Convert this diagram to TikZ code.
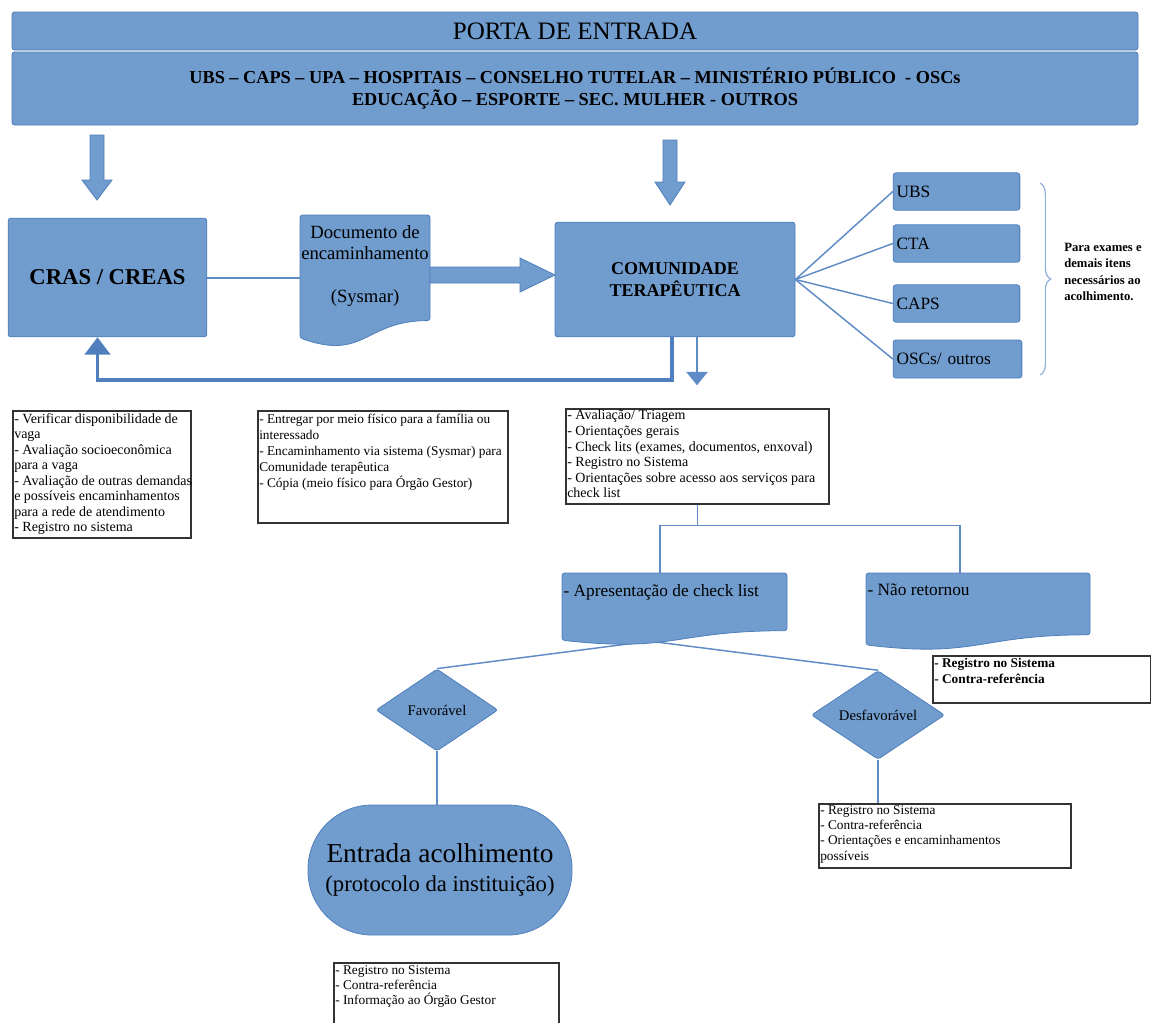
\documentclass[tikz,border=0pt]{standalone}
\usepackage{fontspec}
\setmainfont{Liberation Serif}
\usetikzlibrary{shapes.geometric,arrows.meta,decorations.pathreplacing}
\definecolor{boxblue}{HTML}{709CCE}
\definecolor{edgeblue}{HTML}{4F7FBC}
\definecolor{lineblue}{HTML}{5F8BC6}
\definecolor{bracec}{HTML}{8FB0DA}

\begin{document}
\begin{tikzpicture}[x=0.75pt,y=-0.75pt,
	bluebox/.style={draw=edgeblue,fill=boxblue,line width=0.6pt,rounded corners=2pt,inner sep=0pt},
	notebox/.style={draw=black!80,fill=white,line width=1.3pt,inner sep=0pt,anchor=north west},
	notetext/.style={anchor=north west,align=left,inner xsep=1.5pt,inner ysep=2.5pt},
	link/.style={draw=lineblue,line width=1.1pt},
	feedback/.style={draw=edgeblue,line width=2.4pt,-{Triangle[width=19pt,length=13pt]}}]
	\useasboundingbox (0,0) rectangle (1151,1022);
	%
	\node[bluebox,minimum width=844.5pt,minimum height=28.5pt,font=\fontsize{18.8}{22}\selectfont] (porta) at (575,31) {PORTA DE ENTRADA};
	\node[bluebox,minimum width=844.5pt,minimum height=54.75pt,align=center,font=\bfseries\fontsize{13.7}{16.5}\selectfont] (portas) at (575,88.5) {UBS – CAPS – UPA – HOSPITAIS – CONSELHO TUTELAR – MINISTÉRIO PÚBLICO \ - OSCs\\EDUCAÇÃO – ESPORTE – SEC. MULHER - OUTROS};
	%
	\draw[bluebox,rounded corners=0pt] (90,135) -- (104,135) -- (104,180) -- (112,180) -- (97,200) -- (82,180) -- (90,180) -- cycle; %down left
	\draw[bluebox,rounded corners=0pt] (663,140) -- (677,140) -- (677,182) -- (685,182) -- (670,205) -- (655,182) -- (663,182) -- cycle; %down right
	%
	\node[bluebox,minimum width=149pt,minimum height=89pt,font=\bfseries\fontsize{17}{20}\selectfont] (cras) at (107.5,277.5) {CRAS / CREAS};
	\node[bluebox,minimum width=180pt,minimum height=86pt,align=center,font=\bfseries\fontsize{13.5}{16.5}\selectfont] (comun) at (675,279.5) {COMUNIDADE\\TERAPÊUTICA};
	%
	\draw[bluebox] (300,215) -- (430,215) -- (430,320.6) .. controls (365,320.6) and (365,361) .. (300,338) -- cycle;
	\node[inner sep=0pt,minimum width=97.5pt,align=center,font=\fontsize{14}{16}\selectfont] (doc) at (365,266) {Documento de\\encaminhamento\\[16pt](Sysmar)};
	\draw[link,line width=1.5pt] (cras.east) -- (cras.east -| doc.west);
	\draw[bluebox,rounded corners=0pt] (430,267) -- (520,267) -- (520,258) -- (555,275) -- (520,292) -- (520,283) -- (430,283) -- cycle;
	%
	\node[bluebox,minimum width=95pt,minimum height=28pt,text width=90pt,align=left,inner xsep=2.5pt,font=\fontsize{13}{15}\selectfont] (ubs) at (956.5,191.5) {UBS};
	\node[bluebox,minimum width=95pt,minimum height=28pt,text width=90pt,align=left,inner xsep=2.5pt,font=\fontsize{13}{15}\selectfont] (cta) at (956.5,243.5) {CTA};
	\node[bluebox,minimum width=95pt,minimum height=28pt,text width=90pt,align=left,inner xsep=2.5pt,font=\fontsize{13}{15}\selectfont] (caps) at (956.5,303.5) {CAPS};
	\node[bluebox,minimum width=96.5pt,minimum height=28.5pt,text width=91.5pt,align=left,inner xsep=2.5pt,font=\fontsize{13}{15}\selectfont] (oscs) at (957.5,359) {OSCs/ outros};
	\foreach \t in {ubs,cta,caps,oscs}
		\draw[link] (comun.east) -- (\t.west);
	%
	\draw[decorate,decoration={brace,amplitude=8pt},draw=bracec,line width=0.9pt] (1040,183) -- (1040,375);
	\node[anchor=west,align=left,inner sep=0pt,font=\bfseries\fontsize{9.5}{12.4}\selectfont] (obs) at (1064,272) {Para exames e\\demais itens\\necessários ao\\acolhimento.};
	%
	\coordinate (fbLevel) at (0,380);
	\coordinate (fbCorner) at ([xshift=-7.5pt]cras.south |- fbLevel);
	\draw[feedback] ([xshift=-2.25pt]comun.south) |- (fbCorner) -- ([xshift=-7.5pt]cras.south);
	\draw[link,-{Triangle[width=16pt,length=10pt]}] ([xshift=16.5pt]comun.south) -- ++(0,48);
	%
	\node[notebox,minimum width=133.5pt,minimum height=95.25pt] (noteA) at (12,410) {};
	\node[notetext,font=\fontsize{10.5}{11.6}\selectfont] (noteAtxt) at (noteA.north west) {- Verificar disponibilidade de\\vaga\\- Avaliação socioeconômica\\para a vaga\\- Avaliação de outras demandas\\e possíveis encaminhamentos\\para a rede de atendimento\\- Registro no sistema};
	\node[notebox,minimum width=187.5pt,minimum height=84pt] (noteB) at (257,410) {};
	\node[notetext,font=\fontsize{10}{12}\selectfont] (noteBtxt) at (noteB.north west) {- Entregar por meio físico para a família ou\\interessado\\- Encaminhamento via sistema (Sysmar) para\\Comunidade terapêutica\\- Cópia (meio físico para Órgão Gestor)};
	\node[notebox,minimum width=197.25pt,minimum height=71.25pt] (noteC) at (565,408) {};
	\node[notetext,font=\fontsize{10.5}{11.7}\selectfont,inner ysep=1.5pt] (noteCtxt) at (noteC.north west) {- Avaliação/ Triagem\\- Orientações gerais\\- Check lits (exames, documentos, enxoval)\\- Registro no Sistema\\- Orientações sobre acesso aos serviços para\\check list};
	%
	\draw[link] (noteC.south) -- ++(0,21) coordinate (split);
	\coordinate (apresTop) at (660,573);
	\coordinate (naoTop) at (960,573);
	\draw[link] (apresTop) |- (split) -| (naoTop);
	%
	\node[bluebox,diamond,minimum width=91.5pt,minimum height=61.5pt,font=\fontsize{11}{13}\selectfont] (fav) at (437,710) {Favorável};
	\node[bluebox,diamond,minimum width=100pt,minimum height=64pt,font=\fontsize{11}{13}\selectfont] (desf) at (878,715) {Desfavorável};
	\coordinate (apresL) at (705,634);
	\coordinate (apresR) at (625,638);
	\draw[link] (apresL) -- (fav.north);
	\draw[link] (apresR) -- (desf.north);
	%
	\draw[bluebox] (562,573) -- (787,573) -- (787,630.7) .. controls (674.5,630.7) and (674.5,652.7) .. (562,640.2) -- cycle;
	\node[anchor=west,inner sep=1pt,font=\fontsize{13}{15}\selectfont] (apres) at (562,592) {- Apresentação de check list};
	\draw[bluebox] (866,573) -- (1090,573) -- (1090,634.8) .. controls (978,634.8) and (978,658.2) .. (866,644.9) -- cycle;
	\node[anchor=west,inner sep=1pt,font=\fontsize{13}{15}\selectfont] (nao) at (866,590) {- Não retornou};
	%
	\node[notebox,minimum width=163.5pt,minimum height=35.25pt] (noteF) at (932,655) {};
	\node[notetext,font=\bfseries\fontsize{10}{12}\selectfont] (noteFtxt) at (noteF.north west) {- Registro no Sistema\\- Contra-referência};
	%
	\node[bluebox,minimum width=198pt,minimum height=97.5pt,rounded corners=48pt,align=center,font=\fontsize{17}{22}\selectfont] (entrada) at (440,870) {{\fontsize{20.5}{24}\selectfont Entrada acolhimento}\\(protocolo da instituição)};
	\draw[link] (fav.south) -- (fav.south |- entrada.north);
	%
	\node[notebox,minimum width=189pt,minimum height=48pt] (noteE) at (818,803) {};
	\node[notetext,font=\fontsize{10}{11.5}\selectfont,inner ysep=1.5pt] (noteEtxt) at (noteE.north west) {- Registro no Sistema\\- Contra-referência\\- Orientações e encaminhamentos\\possíveis};
	\draw[link] (desf.south) -- (desf.south |- noteE.north);
	%
	\node[notebox,minimum width=168.75pt,minimum height=52pt] (noteD) at (333,962) {};
	\node[notetext,font=\fontsize{10}{11.3}\selectfont] (noteDtxt) at (noteD.north west) {- Registro no Sistema\\- Contra-referência\\- Informação ao Órgão Gestor};
\end{tikzpicture}
\end{document}
